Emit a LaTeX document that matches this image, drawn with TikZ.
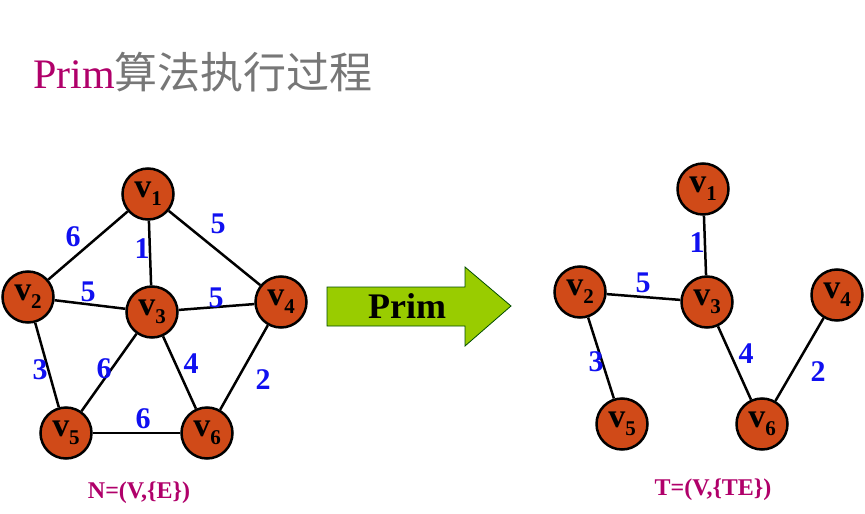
\documentclass[tikz,border=0pt]{standalone}
\usepackage{fontspec}
\setmainfont{Liberation Serif}
\newfontfamily\cjk{Noto Sans CJK SC}
\definecolor{nodeor}{HTML}{D04A18}
\definecolor{magt}{HTML}{B0006A}
\definecolor{wblue}{HTML}{1010F0}
\definecolor{arrgreen}{HTML}{99CC00}
\definecolor{titlegray}{HTML}{777777}
\newcommand{\vlab}[1]{\raisebox{-3pt}{{\fontsize{34}{34}\selectfont\bfseries v}\raisebox{-8pt}{\fontsize{21}{21}\selectfont\bfseries #1}}}
\tikzset{
  vert/.style={circle, draw=black, line width=2.5pt, fill=nodeor, minimum size=51pt, inner sep=0pt, text=black},
  edge/.style={line width=2.5pt, draw=black},
  wt/.style={text=wblue, font=\fontsize{30}{30}\selectfont\bfseries, inner sep=0pt},
  captext/.style={text=magt, font=\fontsize{24}{24}\selectfont\bfseries, inner sep=0pt}
}
\begin{document}
\begin{tikzpicture}[x=1pt,y=-1pt]
\useasboundingbox (0,0) rectangle (865,514);
% title
\node[anchor=base west, inner sep=0pt] (title) at (33,88) {\fontsize{42}{42}\selectfont\textcolor{magt}{Prim}\textcolor{titlegray}{\cjk\fontsize{43}{43}\selectfont 算法执行过程}};
% left graph
\node[vert] (a1) at (148,194) {\vlab{1}};
\node[vert] (a2) at (28,297) {\vlab{2}};
\node[vert] (a3) at (152,312) {\vlab{3}};
\node[vert] (a4) at (281,302) {\vlab{4}};
\node[vert] (a5) at (66,433) {\vlab{5}};
\node[vert] (a6) at (207,433) {\vlab{6}};
\draw[edge] (a1) -- (a2);
\draw[edge] (a1) -- (a3);
\draw[edge] (a1) -- (a4);
\draw[edge] (a2) -- (a3);
\draw[edge] (a3) -- (a4);
\draw[edge] (a2) -- (a5);
\draw[edge] (a3) -- (a5);
\draw[edge] (a3) -- (a6);
\draw[edge] (a4) -- (a6);
\draw[edge] (a5) -- (a6);
\node[wt] (w12) at (73,237) {6};
\node[wt] (w13) at (142,249) {1};
\node[wt] (w14) at (218,224) {5};
\node[wt] (w23) at (88,292) {5};
\node[wt] (w34) at (216,298) {5};
\node[wt] (w25) at (40,370) {3};
\node[wt] (w35) at (104,369) {6};
\node[wt] (w36) at (191,364) {4};
\node[wt] (w46) at (263,380) {2};
\node[wt] (w56) at (143,419) {6};
\node[captext] (capN) at (139,493) {N=(V,\{E\})};
% arrow
\draw[fill=arrgreen, draw=black!70!green, line width=0.8pt] (327,287) -- (465,287) -- (465,267) -- (511,306) -- (465,346) -- (465,326) -- (327,326) -- cycle;
\node[inner sep=0pt, font=\fontsize{36}{36}\selectfont\bfseries] (arrtxt) at (407,306) {Prim};
% right graph
\node[vert] (b1) at (703,189) {\vlab{1}};
\node[vert] (b2) at (580,292) {\vlab{2}};
\node[vert] (b3) at (707,302) {\vlab{3}};
\node[vert] (b4) at (837,295) {\vlab{4}};
\node[vert] (b5) at (622,424) {\vlab{5}};
\node[vert] (b6) at (762,424) {\vlab{6}};
\draw[edge] (b1) -- (b3);
\draw[edge] (b2) -- (b3);
\draw[edge] (b2) -- (b5);
\draw[edge] (b3) -- (b6);
\draw[edge] (b4) -- (b6);
\node[wt] (r13) at (697,243) {1};
\node[wt] (r23) at (643,283) {5};
\node[wt] (r25) at (596,362) {3};
\node[wt] (r36) at (746,354) {4};
\node[wt] (r46) at (818,372) {2};
\node[captext] (capT) at (713,490) {T=(V,\{TE\})};
\end{tikzpicture}
\end{document}
